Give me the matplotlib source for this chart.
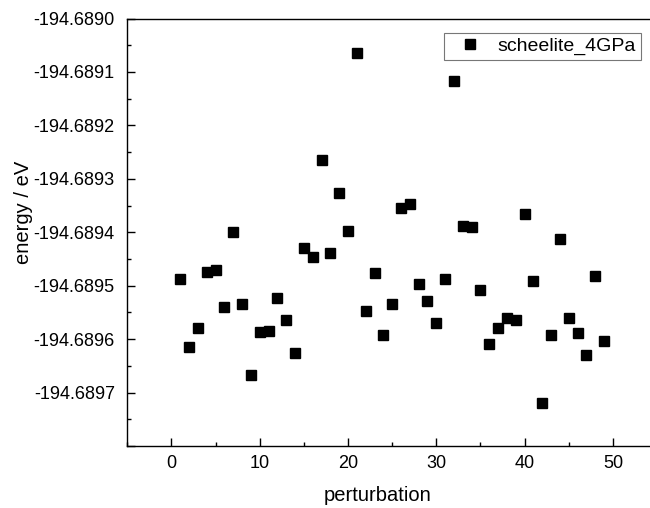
import matplotlib
matplotlib.use("Agg")
import matplotlib.pyplot as plt
from matplotlib.ticker import MultipleLocator

plt.rcParams['font.family'] = ['Liberation Sans', 'DejaVu Sans']

# perturbation index and total energy (eV)
perturbation = list(range(1, 50))
energy = [
    -194.6894873, -194.6896146, -194.6895796, -194.6894734, -194.6894697,
    -194.6895390, -194.6894004, -194.6895333, -194.6896676, -194.6895871,
    -194.6895852, -194.6895228, -194.6895633, -194.6896258, -194.6894292,
    -194.6894460, -194.6892650, -194.6894386, -194.6893262, -194.6893974,
    -194.6890652, -194.6895464, -194.6894766, -194.6895921, -194.6895333,
    -194.6893554, -194.6893474, -194.6894966, -194.6895277, -194.6895689,
    -194.6894866, -194.6891176, -194.6893886, -194.6893892, -194.6895079,
    -194.6896090, -194.6895790, -194.6895609, -194.6895633, -194.6893661,
    -194.6894921, -194.6897195, -194.6895927, -194.6894130, -194.6895596,
    -194.6895890, -194.6896289, -194.6894822, -194.6896027,
]
series_name = "scheelite_4GPa"
y_ticks = [-194.6898, -194.6897, -194.6896, -194.6895, -194.6894,
           -194.6893, -194.6892, -194.6891, -194.6890]

fig = plt.figure(figsize=(6.5, 5.08), dpi=100)
# right spine lies just past the figure edge, as in the cropped original
ax = fig.add_axes([0.1958, 0.122, 0.8151, 0.8415])

ax.plot(perturbation, energy, 's', color='black', markersize=6.5,
        label=series_name)

ax.set_xlim(-5, 55)
ax.xaxis.set_major_locator(MultipleLocator(10))
ax.xaxis.set_minor_locator(MultipleLocator(5))

ax.set_yticks(y_ticks)
# bottom tick has no label in the original
ax.set_yticklabels([''] + ['%.4f' % v for v in y_ticks[1:]])
ax.yaxis.set_minor_locator(MultipleLocator(0.00005))
ax.set_ylim(-194.6898, -194.6890)

ax.tick_params(which='both', direction='in', width=1.0, labelsize=13,
               top=False, right=False)
ax.tick_params(which='major', length=6)
ax.tick_params(which='minor', length=3.2)
ax.tick_params(axis='x', pad=6.5)
ax.tick_params(axis='y', pad=9)

for sp in ax.spines.values():
    sp.set_linewidth(1.0)

ax.set_xlabel('perturbation', fontsize=14.5)
ax.set_ylabel('energy / eV', fontsize=14.5)
ax.xaxis.set_label_coords(0.473, -0.094)
ax.yaxis.set_label_coords(-0.178, 0.547)

leg = ax.legend(loc='upper right', bbox_to_anchor=(0.9687, 0.9668),
                borderaxespad=0, fontsize=14, numpoints=1, fancybox=False,
                framealpha=1, edgecolor='#777777', borderpad=0.25,
                handlelength=2.2, handletextpad=0.3)
leg.get_frame().set_linewidth(0.8)

fig.savefig('out.png', dpi=100)
